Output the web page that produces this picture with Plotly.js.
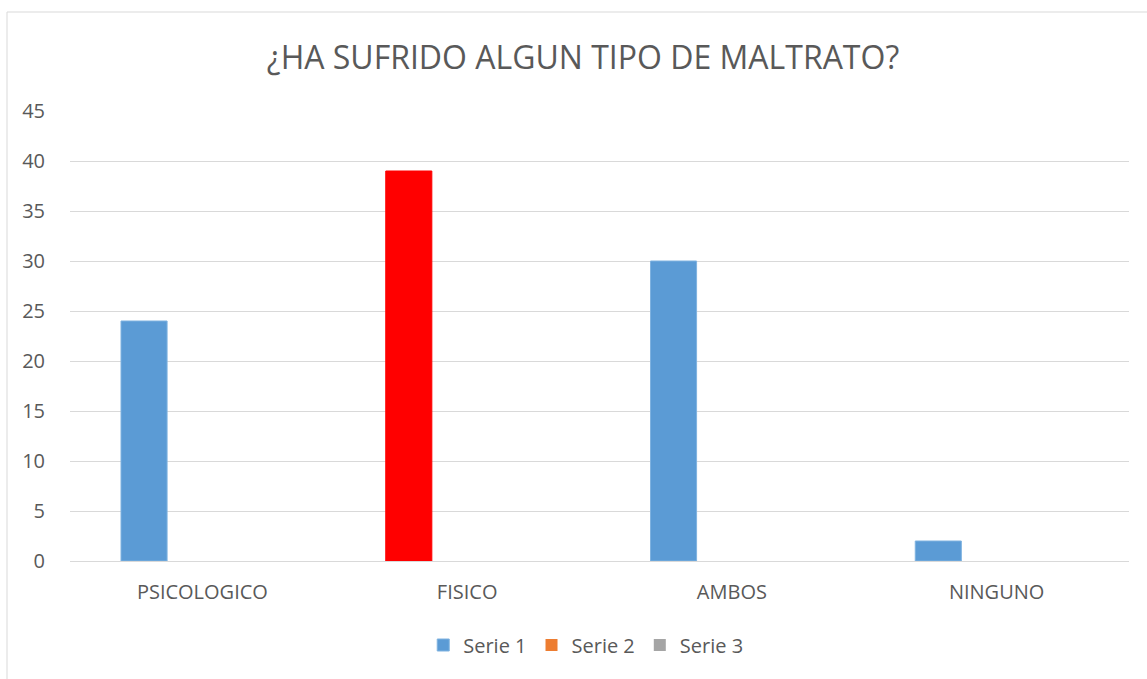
<!DOCTYPE html>
<html>
<head>
<meta charset="utf-8">
<script src="https://cdn.plot.ly/plotly-3.0.1.min.js"></script>
<style>
html,body{margin:0;padding:0;background:#fff;}
#chart{width:1147px;height:679px;}
</style>
</head>
<body>
<div id="chart"></div>
<script>
const categories = ["PSICOLOGICO", "FISICO", "AMBOS", "NINGUNO"];
const serie1 = [24, 39, 30, 2];
const serie2 = [0, 0, 0, 0];
const serie3 = [0, 0, 0, 0];
const seriesNames = ["Serie 1", "Serie 2", "Serie 3"];
const yTicks = [0, 5, 10, 15, 20, 25, 30, 35, 40, 45];

const blue = "#5B9BD5", orange = "#ED7D31", gray = "#A5A5A5";
const serie1Colors = [blue, "#FF0000", blue, blue];
const serie1Lines = ["#7FB2E0", "#FF0000", "#7FB2E0", "#7FB2E0"];

const traces = [
  {type:"bar", name:seriesNames[0], x:categories, y:serie1,
   marker:{color:serie1Colors, line:{color:serie1Lines, width:1}}},
  {type:"bar", name:seriesNames[1], x:categories, y:serie2,
   marker:{color:orange, line:{width:0}}},
  {type:"bar", name:seriesNames[2], x:categories, y:serie3,
   marker:{color:gray, line:{width:0}}}
];

const font = "Open Sans, Noto Sans, sans-serif";
const layout = {
  width:1147, height:679,
  margin:{l:70, r:18, t:111, b:118},
  paper_bgcolor:"#fff", plot_bgcolor:"#fff",
  font:{family:font, color:"#595959", size:20},
  title:{text:"¿HA SUFRIDO ALGUN TIPO DE MALTRATO?", x:583/1147, xanchor:"center",
         y:1-58/679, yref:"container", yanchor:"middle",
         font:{family:font, size:32, color:"#595959"}},
  barmode:"group", bargap:0.339, bargroupgap:0.21,
  xaxis:{type:"category", showgrid:false, showline:true, linecolor:"#D9D9D9", linewidth:1,
         ticks:"outside", ticklen:13, tickcolor:"rgba(0,0,0,0)",
         tickfont:{size:20, color:"#595959"}, fixedrange:true},
  yaxis:{range:[0,45], tickvals:yTicks, showgrid:true, gridcolor:"#D9D9D9", gridwidth:1,
         zeroline:true, zerolinecolor:"#D9D9D9", zerolinewidth:1, showline:false,
         ticks:"outside", ticklen:20, tickcolor:"rgba(0,0,0,0)",
         tickfont:{size:20, color:"#595959"}, fixedrange:true},
  showlegend:true,
  legend:{orientation:"h", x:0.487, xanchor:"center", y:(561-645)/450, yanchor:"middle",
          font:{size:20, color:"#595959"}, traceorder:"normal", itemwidth:30},
  shapes:[{type:"rect", xref:"paper", yref:"paper",
           x0:(7-70)/1059, x1:(1160-70)/1059, y0:(561-700)/450, y1:(561-12)/450,
           line:{color:"#D9D9D9", width:1}, fillcolor:"rgba(0,0,0,0)", layer:"below"}]
};

Plotly.newPlot("chart", traces, layout, {displayModeBar:false, staticPlot:true});
</script>
</body>
</html>
